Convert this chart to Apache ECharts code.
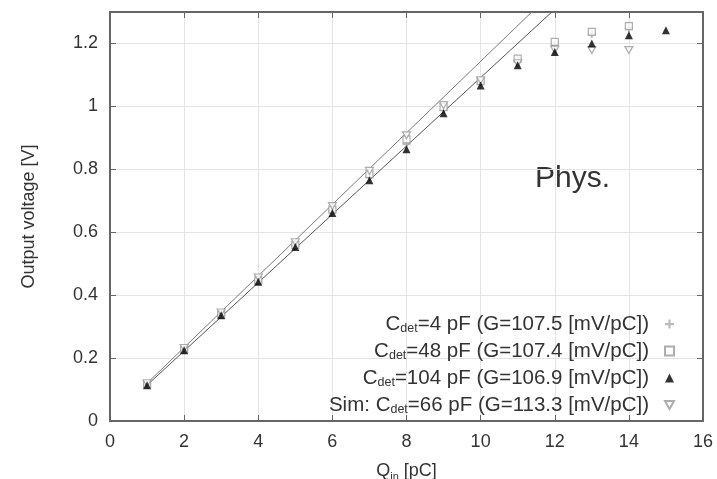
<!DOCTYPE html>
<html><head><meta charset="utf-8">
<script src="https://cdn.jsdelivr.net/npm/echarts@6/dist/echarts.min.js"></script>
<style>html,body{margin:0;padding:0;background:#fff}#c{width:717px;height:479px}</style>
</head><body><div id="c"></div>
<script>
const qIn = [1,2,3,4,5,6,7,8,9,10,11,12,13,14,15];
const c4pF   = [0.115,0.226,0.337,0.445,0.556,0.668,0.775,0.880,0.988,1.075,1.145,1.195,1.230,1.248];
const c48pF  = [0.116,0.227,0.339,0.447,0.560,0.672,0.785,0.895,0.998,1.080,1.152,1.205,1.237,1.255];
const c104pF = [0.114,0.225,0.336,0.443,0.553,0.661,0.765,0.864,0.978,1.066,1.131,1.173,1.200,1.226,1.242];
const simPF  = [0.120,0.232,0.345,0.456,0.568,0.683,0.795,0.908,1.004,1.083,1.137,1.180,1.179,1.179];
const fitMeasX = [1, 11.92], fitMeasY = [0.114, 1.3];
const fitSimX  = [1, 11.38], fitSimY  = [0.120, 1.3];
const xTicks = [0,2,4,6,8,10,12,14,16];
const yTicks = [0,0.2,0.4,0.6,0.8,1,1.2];
const names = [
  ['C','det','=4 pF (G=107.5 [mV/pC])'],
  ['C','det','=48 pF (G=107.4 [mV/pC])'],
  ['C','det','=104 pF (G=106.9 [mV/pC])'],
  ['Sim: C','det','=66 pF (G=113.3 [mV/pC])']
];
const nm = n => n.join('_');
const pts = (xs, ys) => ys.map((v,i)=>[xs[i], v]);

const txt = '#333';
const frame = '#666';
const axisCommon = {
  axisLine:{show:true,onZero:false,lineStyle:{color:frame,width:2}},
  axisTick:{show:true,inside:true,length:6,lineStyle:{color:frame,width:1}},
};
const chart = echarts.init(document.getElementById('c'));
chart.setOption({
  animation:false,
  backgroundColor:'#fff',
  textStyle:{fontFamily:'Liberation Sans, Arial, sans-serif'},
  grid:{left:110,right:14,top:12,bottom:58,containLabel:false,outerBoundsMode:'none'},
  xAxis:[{
    type:'value',min:0,max:16,interval:2,position:'bottom',
    ...axisCommon,
    splitLine:{show:true,lineStyle:{color:'#e4e4e4',width:1}},
    axisLabel:{color:txt,fontSize:18,margin:12,formatter:v=>xTicks.includes(v)?String(v):''},
    name:'{a|Q}{b|in}{a| [pC]}',nameLocation:'middle',nameGap:39,
    nameTextStyle:{rich:{a:{fontSize:18,color:txt,lineHeight:22},b:{fontSize:11,color:txt,lineHeight:11,verticalAlign:'bottom',padding:[12,0,0,0]}}}
  },{
    type:'value',min:0,max:16,interval:2,position:'top',
    ...axisCommon,splitLine:{show:false},axisLabel:{show:false}
  }],
  yAxis:[{
    type:'value',min:0,max:1.3,interval:0.2,position:'left',
    ...axisCommon,
    splitLine:{show:true,lineStyle:{color:'#e4e4e4',width:1}},
    axisLabel:{color:txt,fontSize:18,margin:12,showMaxLabel:false,
      formatter:v=>{const t=yTicks.find(k=>Math.abs(k-v)<1e-6);return t===undefined?'':String(t);}},
    name:'Output voltage [V]',nameLocation:'middle',nameGap:72,
    nameTextStyle:{fontSize:18,color:txt}
  },{
    type:'value',min:0,max:1.3,interval:0.2,position:'right',
    ...axisCommon,splitLine:{show:false},axisLabel:{show:false}
  }],
  legend:{
    orient:'vertical',right:37,top:304,align:'right',itemGap:1,itemWidth:9,itemHeight:9,
    data:names.map(nm),
    formatter:n=>{const p=n.split('_');return '{a|'+p[0]+'}{b|'+p[1]+'}{a|'+p[2]+'}';},
    textStyle:{color:txt,padding:[0,11,0,0],rich:{
      a:{fontSize:20.5,color:txt,lineHeight:22},
      b:{fontSize:12.5,color:txt,lineHeight:12,verticalAlign:'bottom',padding:[13,0,0,0]}
    }}
  },
  graphic:[{type:'text',left:535,top:164,style:{text:'Phys.',fontSize:30,fill:'#333',fontFamily:'Liberation Sans, Arial, sans-serif'}}],
  series:[
    {type:'line',data:pts(fitMeasX,fitMeasY),symbol:'none',lineStyle:{color:'#555',width:1},silent:true,z:1},
    {type:'line',data:pts(fitSimX,fitSimY),symbol:'none',lineStyle:{color:'#7a7a7a',width:1},silent:true,z:1},
    {name:nm(names[0]),type:'scatter',data:pts(qIn,c4pF),symbol:'path://M3,0H5V3H8V5H5V8H3V5H0V3H3Z',symbolSize:8,itemStyle:{color:'#aaa'},z:3},
    {name:nm(names[1]),type:'scatter',data:pts(qIn,c48pF),symbol:'rect',symbolSize:7,itemStyle:{color:'#fff',borderColor:'#999',borderWidth:1.2},z:3},
    {name:nm(names[3]),type:'scatter',data:pts(qIn,simPF),symbol:'path://M0,0L10,0L5,9Z',symbolSize:[8,7],itemStyle:{color:'#fff',borderColor:'#999',borderWidth:1.2},z:3},
    {name:nm(names[2]),type:'scatter',data:pts(qIn,c104pF),symbol:'triangle',symbolSize:8,itemStyle:{color:'#000'},z:4}
  ]
});
</script></body></html>
